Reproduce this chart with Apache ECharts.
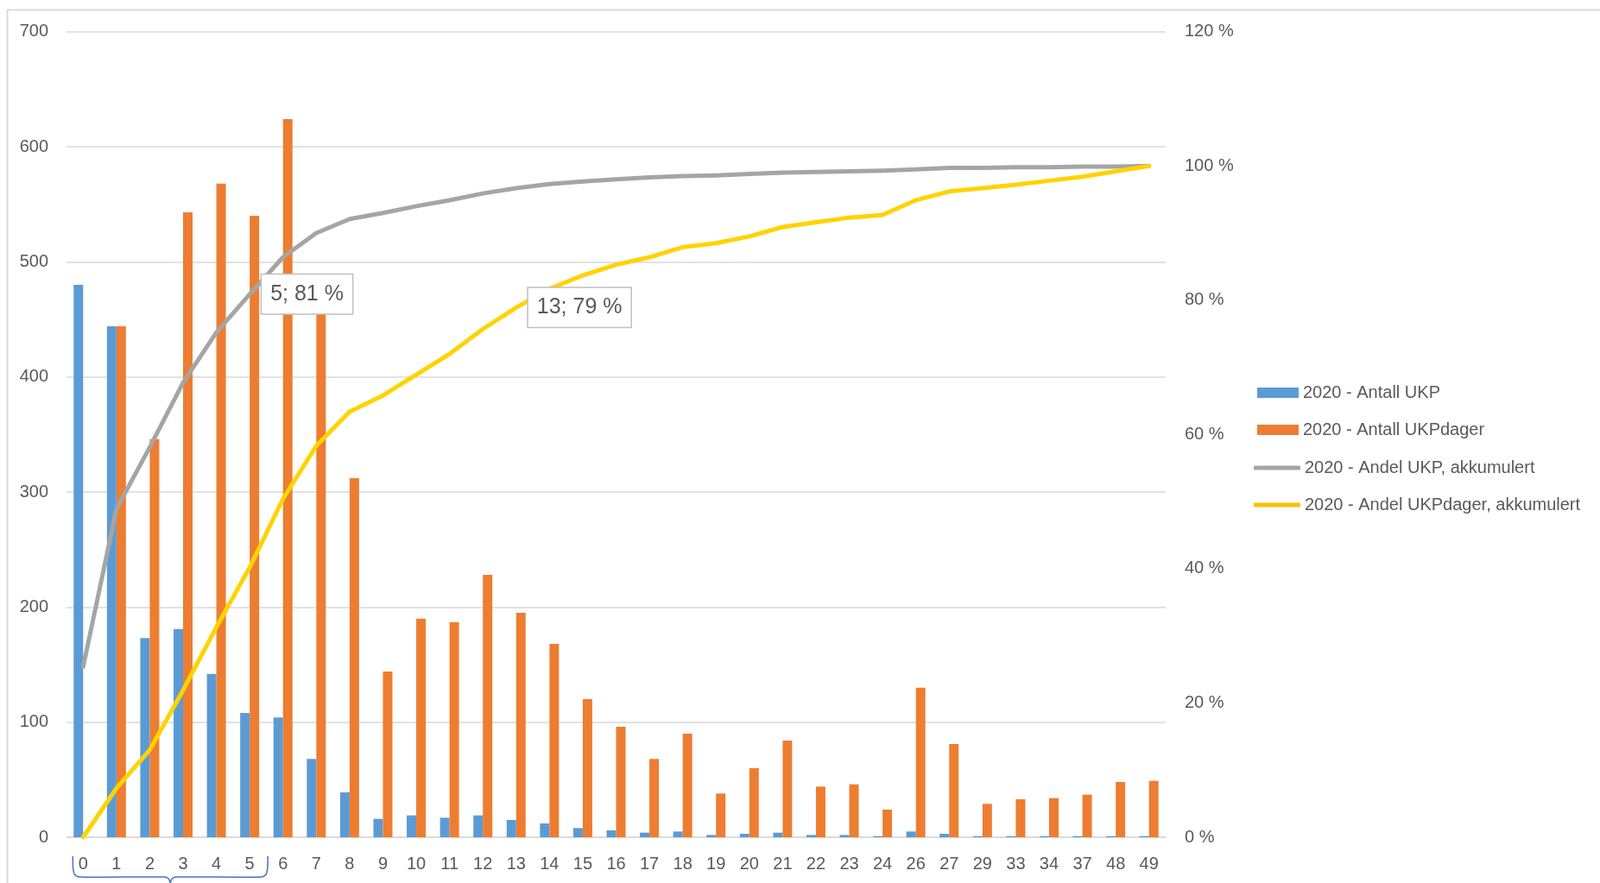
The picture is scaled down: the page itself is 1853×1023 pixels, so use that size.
<!DOCTYPE html>
<html>
<head>
<meta charset="utf-8">
<script src="https://cdn.jsdelivr.net/npm/echarts@6/dist/echarts.min.js"></script>
<style>
html,body{margin:0;padding:0;background:#fff;}
#chart{width:1853px;height:1023px;}
</style>
</head>
<body>
<div id="chart"></div>
<script>
const categories = ['0','1','2','3','4','5','6','7','8','9','10','11','12','13','14','15','16','17','18','19','20','21','22','23','24','26','27','29','33','34','37','48','49'];
const antallUKP = [480,444,173,181,142,108,104,68,39,16,19,17,19,15,12,8,6,4,5,2,3,4,2,2,1,5,3,1,1,1,1,1,1];
const antallUKPdager = [0,444,346,543,568,540,624,476,312,144,190,187,228,195,168,120,96,68,90,38,60,84,44,46,24,130,81,29,33,34,37,48,49];
const andelUKPakk = [0.254,0.489,0.581,0.677,0.752,0.809,0.864,0.900,0.921,0.930,0.940,0.949,0.959,0.967,0.973,0.977,0.980,0.983,0.985,0.986,0.988,0.990,0.991,0.992,0.993,0.995,0.997,0.997,0.998,0.998,0.999,0.999,1.000];
const andelUKPdagerAkk = [0,0.073,0.130,0.219,0.313,0.402,0.504,0.583,0.634,0.658,0.689,0.720,0.757,0.789,0.817,0.837,0.853,0.864,0.879,0.885,0.895,0.909,0.916,0.923,0.927,0.949,0.962,0.967,0.972,0.978,0.984,0.992,1.000];
const leftTicks = {min:0, max:700, interval:100};
const rightTicks = {min:0, max:1.2, interval:0.2};
const seriesNames = ['2020 - Antall UKP','2020 - Antall UKPdager','2020 - Andel UKP, akkumulert','2020 - Andel UKPdager, akkumulert'];
const labelledPoints = {gray:5, yellow:13};

const FONT = 'Liberation Sans, Arial, sans-serif';
const TXT = '#595959';

function calloutLabel(){
  return {
    show:true, position:'right', distance:14,
    formatter: p => categories[p.dataIndex] + '; ' + Math.round(p.value*100) + ' %',
    backgroundColor:'#ffffff', borderColor:'#BFBFBF', borderWidth:1.5,
    padding:[10,10,10,10], fontSize:25, lineHeight:25, color:TXT, fontFamily:FONT
  };
}
const grayData = andelUKPakk.map((v,i)=> i===labelledPoints.gray ? {value:v, label:calloutLabel()} : v);
const yellowData = andelUKPdagerAkk.map((v,i)=> i===labelledPoints.yellow ? {value:v, label:calloutLabel()} : v);

const chart = echarts.init(document.getElementById('chart'), null, {renderer:'canvas'});
const option = {
  animation:false,
  backgroundColor:'#ffffff',
  textStyle:{fontFamily:FONT, color:TXT},
  grid:{left:77, right:503, top:36.7, bottom:53, containLabel:false},
  legend:[
    {
      orient:'vertical', left:1451, top:440, padding:5,
      itemWidth:48, itemHeight:12, itemGap:23,
      textStyle:{fontSize:20, lineHeight:20, color:TXT, fontFamily:FONT},
      data:[
        {name:seriesNames[0], icon:'rect'},
        {name:seriesNames[1], icon:'rect'}
      ]
    },
    {
      orient:'vertical', left:1447, top:527, padding:5,
      itemWidth:54, itemHeight:5, itemGap:23,
      textStyle:{fontSize:20, lineHeight:20, color:TXT, fontFamily:FONT},
      data:[
        {name:seriesNames[2], icon:'roundRect'},
        {name:seriesNames[3], icon:'roundRect'}
      ]
    }
  ],
  xAxis:{
    type:'category', data:categories, boundaryGap:true,
    axisLine:{show:true, lineStyle:{color:'#D9D9D9', width:1.5}},
    axisTick:{show:false},
    axisLabel:{interval:0, margin:21, fontSize:20, color:TXT, fontFamily:FONT},
    splitLine:{show:false}
  },
  yAxis:[
    {type:'value', min:leftTicks.min, max:leftTicks.max, interval:leftTicks.interval,
     axisLine:{show:false}, axisTick:{show:false},
     axisLabel:{fontSize:20, margin:21, color:TXT, fontFamily:FONT},
     splitLine:{show:true, lineStyle:{color:'#D9D9D9', width:1.5}}},
    {type:'value', min:rightTicks.min, max:rightTicks.max, interval:rightTicks.interval, position:'right',
     axisLine:{show:false}, axisTick:{show:false},
     axisLabel:{fontSize:20, margin:22, color:TXT, fontFamily:FONT,
       formatter: v => Math.round(v*100) + ' %'},
     splitLine:{show:false}}
  ],
  series:[
    {name:seriesNames[0], type:'bar', data:antallUKP, barWidth:11, barGap:'0%',
     itemStyle:{color:'#5B9BD5'}},
    {name:seriesNames[1], type:'bar', data:antallUKPdager, barWidth:11, barGap:'0%',
     itemStyle:{color:'#ED7D31'}},
    {name:seriesNames[2], type:'line', yAxisIndex:1, data:grayData, symbol:'circle', symbolSize:0, showSymbol:true, showAllSymbol:true,
     lineStyle:{color:'#A5A5A5', width:5, cap:'round', join:'round'}, itemStyle:{color:'#A5A5A5'}, z:5},
    {name:seriesNames[3], type:'line', yAxisIndex:1, data:yellowData, symbol:'circle', symbolSize:0, showSymbol:true, showAllSymbol:true,
     lineStyle:{color:'#FFC000', width:5, cap:'round', join:'round'}, itemStyle:{color:'#FFC000'}, z:6}
  ]
};
chart.setOption(option);

// decorative border and bracket under categories 0-5
const x0 = chart.convertToPixel({xAxisIndex:0}, 0);
const x5 = chart.convertToPixel({xAxisIndex:0}, 5);
const L = x0 - 12, R = x5 + 21, M = (L + R) / 2;
const yTop = 992, yMid = 1016, yTip = 1023;
chart.setOption({
  graphic:[
    {type:'rect', left:6, top:9, shape:{x:0, y:0, width:1900, height:1100},
     style:{fill:null, stroke:'#D9D9D9', lineWidth:2}, silent:true},
    {type:'polyline', shape:{points:[[L,yTop],[L+0.3,yTop+13],[L+2,yMid-3],[L+7,yMid],[M-7,yMid],[M-2,yMid+2],[M,yTip]], smooth:0.25},
     style:{fill:null, stroke:'#4472C4', lineWidth:1.5}, silent:true},
    {type:'polyline', shape:{points:[[R,yTop],[R-0.3,yTop+13],[R-2,yMid-3],[R-7,yMid],[M+7,yMid],[M+2,yMid+2],[M,yTip]], smooth:0.25},
     style:{fill:null, stroke:'#4472C4', lineWidth:1.5}, silent:true}
  ]
});
</script>
</body>
</html>
